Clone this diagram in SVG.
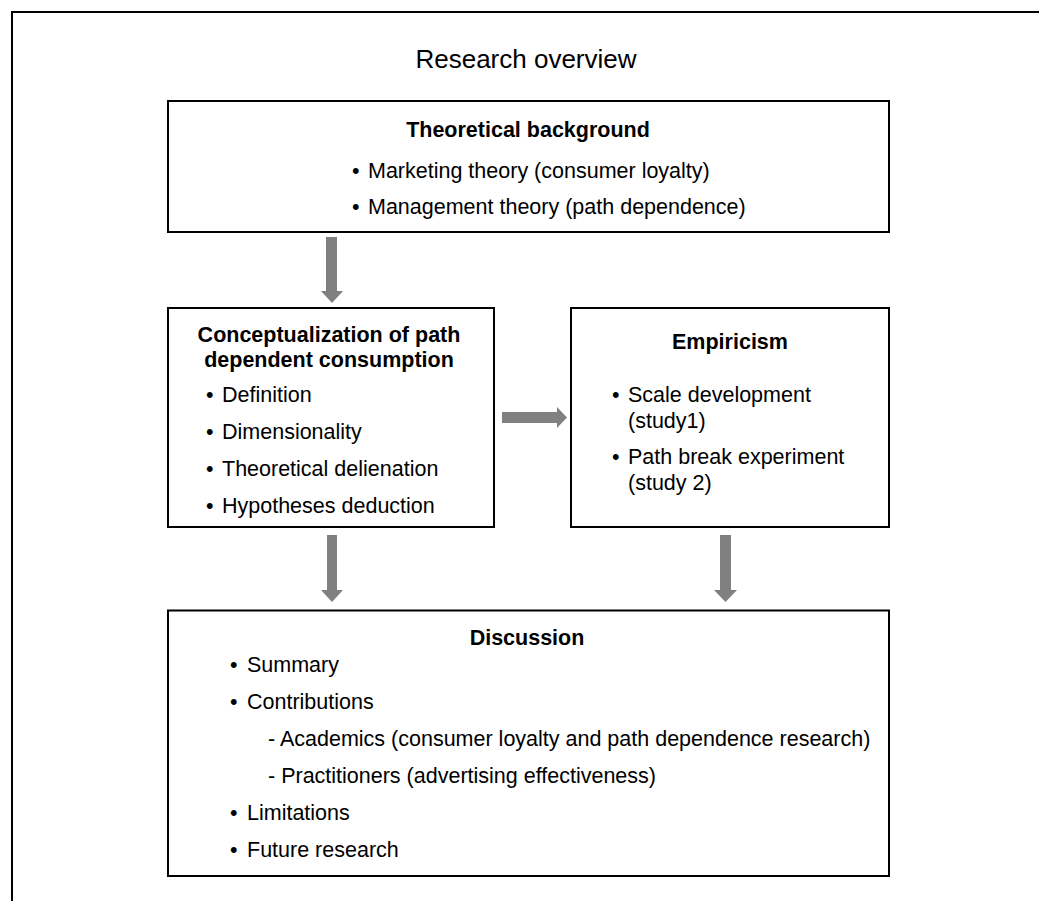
<svg xmlns="http://www.w3.org/2000/svg" width="1039" height="901" viewBox="0 0 1039 901">
  <style>
    .frame { fill: none; stroke: #000; stroke-width: 2; }
    .box { fill: #fff; stroke: #000; stroke-width: 2; }
    .arrow { fill: #808080; }
    text { font-family: "Liberation Sans", Arial, sans-serif; fill: #000; }
    .title { font-size: 26px; text-anchor: middle; }
    .head { font-size: 21.5px; font-weight: bold; text-anchor: middle; }
    .item { font-size: 21.5px; }
  </style>
  <rect width="1039" height="901" fill="#fff"/>
  <rect class="frame" x="12" y="12" width="1040" height="900"/>

  <text class="title" x="526" y="68">Research overview</text>

  <g id="connectors">
    <polygon class="arrow" points="326,237 337,237 337,291 343,291 332,303 321,291 326,291"/>
    <polygon class="arrow" points="502,412 557,412 557,407 567,417.5 557,428 557,423 502,423"/>
    <polygon class="arrow" points="327,535 337,535 337,590 343,590 332,602 321,590 327,590"/>
    <polygon class="arrow" points="720,535 731,535 731,590 737,590 725.5,602 714,590 720,590"/>
  </g>

  <g id="theoretical-background">
    <rect class="box" x="168" y="101" width="721" height="131"/>
    <text class="head" x="528" y="137">Theoretical background</text>
    <text class="item" x="352" y="178">•</text>
    <text class="item" x="368" y="178">Marketing theory (consumer loyalty)</text>
    <text class="item" x="352" y="214">•</text>
    <text class="item" x="368" y="214">Management theory (path dependence)</text>
  </g>

  <g id="conceptualization">
    <rect class="box" x="168" y="308" width="326" height="219"/>
    <text class="head" x="329" y="342">Conceptualization of path</text>
    <text class="head" x="329" y="367">dependent consumption</text>
    <text class="item" x="206" y="402">•</text>
    <text class="item" x="222" y="402">Definition</text>
    <text class="item" x="206" y="439">•</text>
    <text class="item" x="222" y="439">Dimensionality</text>
    <text class="item" x="206" y="476">•</text>
    <text class="item" x="222" y="476">Theoretical delienation</text>
    <text class="item" x="206" y="513">•</text>
    <text class="item" x="222" y="513">Hypotheses deduction</text>
  </g>

  <g id="empiricism">
    <rect class="box" x="571" y="308" width="318" height="219"/>
    <text class="head" x="730" y="349">Empiricism</text>
    <text class="item" x="612" y="402">•</text>
    <text class="item" x="628" y="402">Scale development</text>
    <text class="item" x="628" y="428">(study1)</text>
    <text class="item" x="612" y="464">•</text>
    <text class="item" x="628" y="464">Path break experiment</text>
    <text class="item" x="628" y="490">(study 2)</text>
  </g>

  <g id="discussion">
    <rect class="box" x="168" y="610.5" width="721" height="265.5"/>
    <text class="head" x="527" y="645">Discussion</text>
    <text class="item" x="230" y="672">•</text>
    <text class="item" x="247" y="672">Summary</text>
    <text class="item" x="230" y="709">•</text>
    <text class="item" x="247" y="709">Contributions</text>
    <text class="item" x="268" y="746">- Academics (consumer loyalty and path dependence research)</text>
    <text class="item" x="268" y="783">- Practitioners (advertising effectiveness)</text>
    <text class="item" x="230" y="820">•</text>
    <text class="item" x="247" y="820">Limitations</text>
    <text class="item" x="230" y="857">•</text>
    <text class="item" x="247" y="857">Future research</text>
  </g>
</svg>
